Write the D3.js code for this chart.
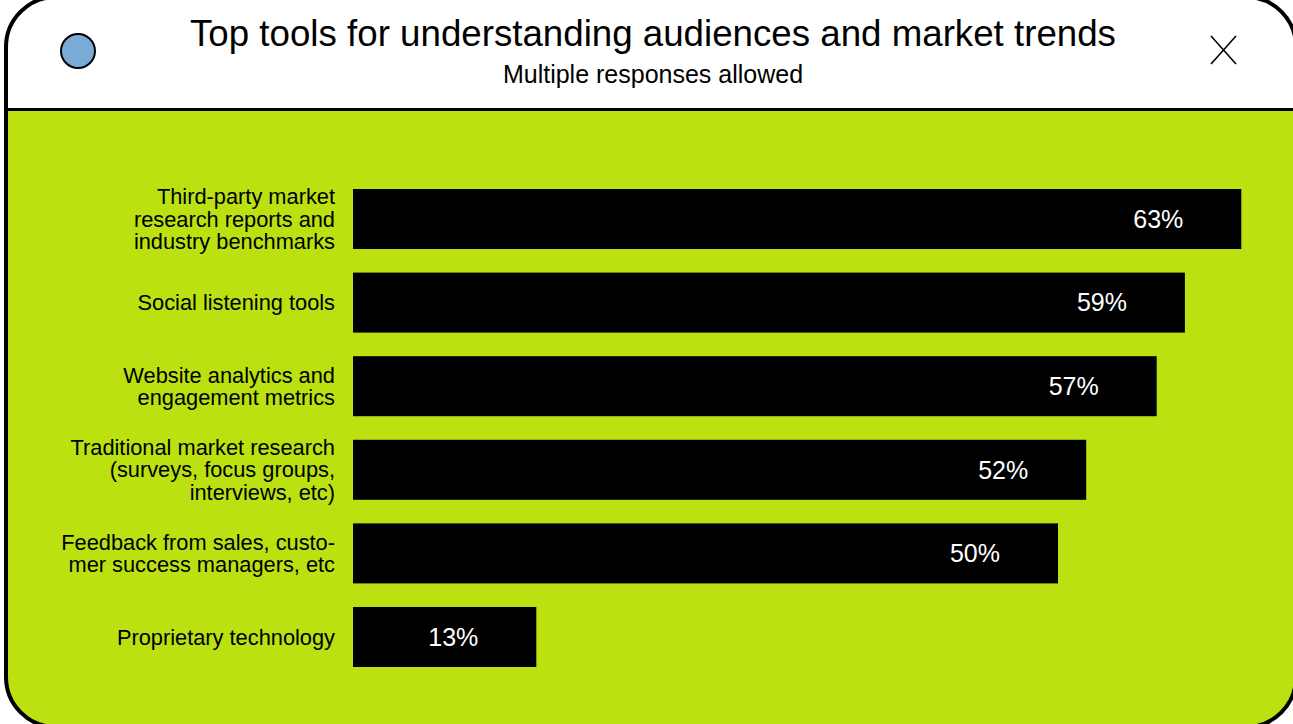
<!DOCTYPE html>
<html>
<head>
<meta charset="utf-8">
<script src="https://cdn.jsdelivr.net/npm/d3@7"></script>
<style>
  html, body { margin: 0; padding: 0; background: #ffffff; }
  svg { display: block; font-family: "Liberation Sans", Arial, Helvetica, sans-serif; }
</style>
</head>
<body>
<svg id="chart"></svg>
<script>
var categories = [
    ['Third-party market', 'research reports and', 'industry benchmarks'],
    ['Social listening tools'],
    ['Website analytics and', 'engagement metrics'],
    ['Traditional market research', '(surveys, focus groups,', 'interviews, etc)'],
    ['Feedback from sales, custo-', 'mer success managers, etc'],
    ['Proprietary technology']
];
var values = [63, 59, 57, 52, 50, 13];
var valueLabels = ['63%', '59%', '57%', '52%', '50%', '13%'];

var title = 'Top tools for understanding audiences and market trends';
var subtitle = 'Multiple responses allowed';

var width = 1293;
var height = 724;
var green = '#bbe111';

var data = values.map(function(v, i) {
    return { id: i, lines: categories[i], value: v, label: valueLabels[i] };
});

var svg = d3.select('#chart')
    .attr('width', width)
    .attr('height', height);

// window frame
var frame = { x: 6, y: -3, w: 1290, h: 730, r: 50 };

svg.append('clipPath')
    .attr('id', 'frameClip')
    .append('rect')
    .attr('x', frame.x)
    .attr('y', frame.y)
    .attr('width', frame.w)
    .attr('height', frame.h)
    .attr('rx', frame.r);

svg.append('rect')
    .attr('x', frame.x)
    .attr('y', frame.y)
    .attr('width', frame.w)
    .attr('height', frame.h)
    .attr('rx', frame.r)
    .attr('fill', green);

svg.append('rect')
    .attr('clip-path', 'url(#frameClip)')
    .attr('x', 0)
    .attr('y', -10)
    .attr('width', width)
    .attr('height', 119)
    .attr('fill', '#ffffff');

svg.append('line')
    .attr('x1', frame.x)
    .attr('x2', width)
    .attr('y1', 109.5)
    .attr('y2', 109.5)
    .attr('stroke', '#000')
    .attr('stroke-width', 3);

svg.append('rect')
    .attr('x', frame.x)
    .attr('y', frame.y)
    .attr('width', frame.w)
    .attr('height', frame.h)
    .attr('rx', frame.r)
    .attr('fill', 'none')
    .attr('stroke', '#000')
    .attr('stroke-width', 4);

// header decorations
svg.append('circle')
    .attr('cx', 78)
    .attr('cy', 51)
    .attr('r', 17)
    .attr('fill', '#7aaad6')
    .attr('stroke', '#000')
    .attr('stroke-width', 2);

svg.append('path')
    .attr('d', 'M1211,36L1236,64M1236,36L1211,64')
    .attr('stroke', '#000')
    .attr('stroke-width', 1.6)
    .attr('fill', 'none');

svg.append('text')
    .attr('x', 653)
    .attr('y', 46)
    .attr('text-anchor', 'middle')
    .attr('font-size', 36.7)
    .attr('fill', '#000')
    .text(title);

svg.append('text')
    .attr('x', 653)
    .attr('y', 83)
    .attr('text-anchor', 'middle')
    .attr('font-size', 25)
    .attr('fill', '#000')
    .text(subtitle);

// scales
var xScale = d3.scaleLinear()
    .domain([0, 50])
    .range([353, 1058]);

var yScale = d3.scaleBand()
    .domain(data.map(d => d.id))
    .range([189, 667])
    .paddingInner(0.282)
    .paddingOuter(0);

var bars = svg.append('g')
    .selectAll('g')
    .data(data)
    .enter()
    .append('g');

bars.append('rect')
    .attr('x', xScale(0))
    .attr('y', d => yScale(d.id))
    .attr('width', d => xScale(d.value) - xScale(0))
    .attr('height', yScale.bandwidth())
    .attr('fill', '#000');

bars.append('text')
    .attr('x', d => xScale(d.value) - 83)
    .attr('y', d => yScale(d.id) + yScale.bandwidth() / 2)
    .attr('dy', '0.35em')
    .attr('text-anchor', 'middle')
    .attr('font-size', 25)
    .attr('fill', '#fff')
    .text(d => d.label);

// category labels
var lineHeight = 22.5;
bars.append('text')
    .attr('text-anchor', 'end')
    .attr('font-size', 21.8)
    .attr('fill', '#000')
    .each(function(d) {
        var t = d3.select(this);
        var n = d.lines.length;
        var cy = yScale(d.id) + yScale.bandwidth() / 2;
        d.lines.forEach(function(line, i) {
            t.append('tspan')
                .attr('x', 335)
                .attr('y', cy + (i - (n - 1) / 2) * lineHeight)
                .attr('dy', '0.35em')
                .text(line);
        });
    });
</script>
</body>
</html>
